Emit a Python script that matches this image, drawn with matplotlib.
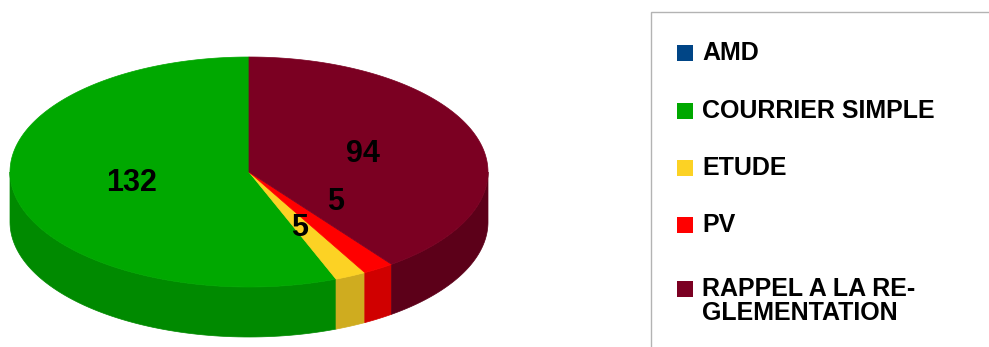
import numpy as np
import matplotlib.pyplot as plt
from matplotlib.patches import Polygon, Rectangle

# Données
categories = ['AMD', 'COURRIER SIMPLE', 'ETUDE', 'PV', 'RAPPEL A LA RE-\nGLEMENTATION']
valeurs = [0, 132, 5, 5, 94]
couleurs = ['#004586', '#00a800', '#fcd224', '#ff0000', '#7b0022']
couleurs_cote = ['#00336a', '#008a00', '#cfac1f', '#d00000', '#5c0019']

plt.rcParams['font.family'] = ['Liberation Sans', 'DejaVu Sans']

fig = plt.figure(figsize=(9.89, 3.47), dpi=100)
ax = fig.add_axes([0, 0, 1, 1])
ax.set_xlim(0, 989)
ax.set_ylim(347, 0)
ax.axis('off')

# Géométrie du camembert 3D (en pixels)
cx, cy = 249, 172
a, b = 239, 115
epaisseur = 50


def point(theta):
    t = np.radians(theta)
    return cx + a * np.cos(t), cy - b * np.sin(t)


# Angles de chaque part, sens anti-horaire depuis midi
total = sum(valeurs)
bornes = []
depart = 90.0
for v in valeurs:
    fin = depart + 360.0 * v / total
    bornes.append((depart, fin))
    depart = fin

# Côtés (uniquement la moitié avant)
for (t1, t2), c in zip(bornes, couleurs_cote):
    for k in (0, 1):
        lo = max(t1, 180 + 360 * k)
        hi = min(t2, 360 + 360 * k)
        if hi <= lo:
            continue
        th = np.linspace(lo, hi, 80)
        xs, ys = point(th)
        pts = np.column_stack([np.r_[xs, xs[::-1]],
                               np.r_[ys, ys[::-1] + epaisseur]])
        ax.add_patch(Polygon(pts, closed=True, facecolor=c, edgecolor=c, lw=0.5))

# Dessus
for (t1, t2), c in zip(bornes, couleurs):
    if t2 <= t1:
        continue
    th = np.linspace(t1, t2, 200)
    xs, ys = point(th)
    pts = np.column_stack([np.r_[cx, xs], np.r_[cy, ys]])
    ax.add_patch(Polygon(pts, closed=True, facecolor=c, edgecolor=c, lw=0.5))

# Étiquettes de valeurs
decalages = [(0, 0), (0, 0), (0, 4), (22, -18), (0, 0)]
for (t1, t2), v, (ddx, ddy) in zip(bornes, valeurs, decalages):
    if v == 0:
        continue
    tm = np.radians((t1 + t2) / 2)
    x = cx + 0.5 * a * np.cos(tm) + ddx
    y = cy - 0.5 * b * np.sin(tm) + ddy
    ax.text(x, y, str(v), fontsize=22, fontweight='bold', ha='center', va='center')

# Légende
ax.add_patch(Rectangle((651, 12), 400, 400, facecolor='white', edgecolor='#b3b3b3', lw=1))
y_legende = [53, 111, 168, 225, 301]
for cat, c, yl in zip(categories, couleurs, y_legende):
    ym = yl - 12 if '\n' in cat else yl
    ax.add_patch(Rectangle((677, ym - 8), 16, 16, facecolor=c, edgecolor='none'))
    ax.text(702, yl, cat, fontsize=18, fontweight='bold', ha='left', va='center',
            linespacing=1.05)

fig.savefig('out.png', dpi=100)
